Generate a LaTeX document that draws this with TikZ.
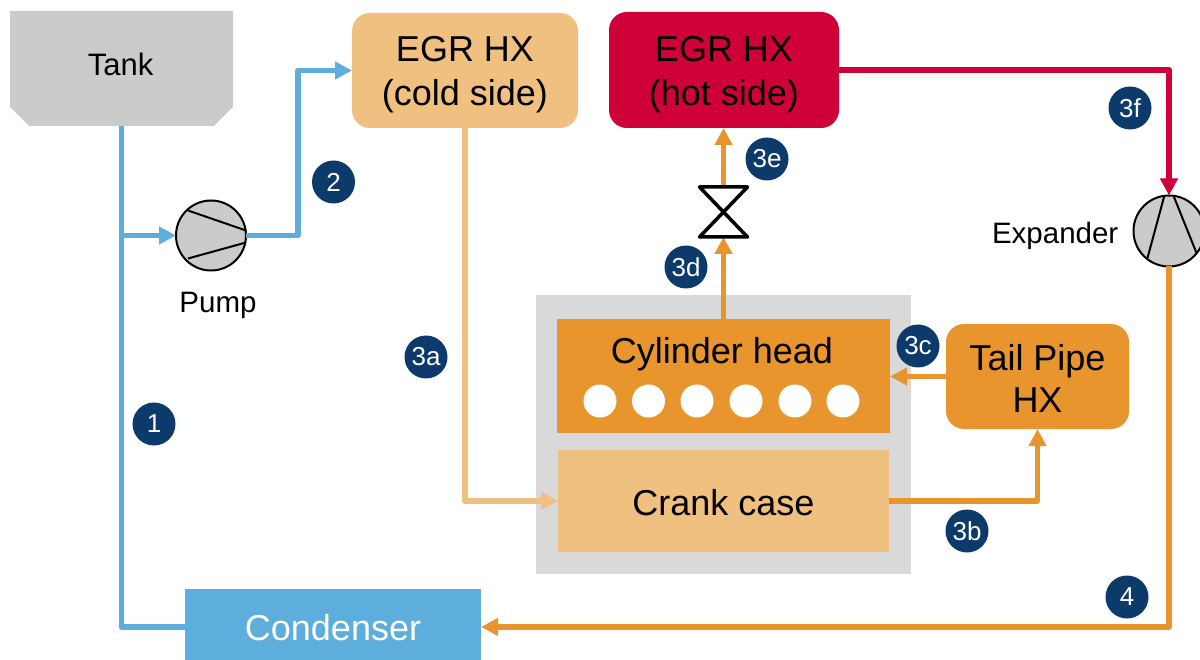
\documentclass[tikz,border=0pt]{standalone}
\usepackage{fontspec}
\setmainfont{Liberation Sans}
\usetikzlibrary{arrows.meta,calc}
\definecolor{flowblue}{HTML}{5DADDD}
\definecolor{floworange}{HTML}{E8952D}
\definecolor{flowpale}{HTML}{F0C080}
\definecolor{flowred}{HTML}{CF0038}
\definecolor{tankgrey}{HTML}{CBCBCB}
\definecolor{enginegrey}{HTML}{D9D9D9}
\definecolor{navy}{HTML}{0B3A6B}
\newcommand{\bigfont}{\fontsize{36}{44}\selectfont}
\newcommand{\midfont}{\fontsize{29.5}{36}\selectfont}
\tikzset{
  box/.style={inner sep=0pt,outer sep=0pt,align=center,font=\bigfont,text=black},
  roundbox/.style={box,rounded corners=18pt},
  flow/.style={line width=5.5pt,line join=round,-{Triangle[width=17pt,length=17pt]}},
  flowplain/.style={line width=5.5pt,line join=round},
  machine/.style={circle,draw=black,line width=2pt,fill=tankgrey,minimum size=70pt,inner sep=0pt,outer sep=0pt},
  blade/.style={black,line width=2pt},
  badge/.style={circle,fill=navy,text=white,minimum size=43pt,inner sep=0pt,font=\fontsize{26}{26}\selectfont},
  hole/.style={circle,fill=white,minimum size=33pt,inner sep=0pt},
  caption/.style={inner sep=0pt,font=\midfont,text=black}
}
\begin{document}
\begin{tikzpicture}[x=1pt,y=-1pt]
\useasboundingbox (0,0) rectangle (1200,660);
% engine block
\node[fill=enginegrey,minimum width=375pt,minimum height=279pt,inner sep=0pt] (engine) at (723.5,434.5) {};
% tank
\node[box,minimum width=223pt,minimum height=115pt] (tank) at (121.5,68.5) {};
\fill[tankgrey] (tank.north west) -- (tank.north east) -- ($(tank.south east)+(0,-19)$) -- ($(tank.south east)+(-19,0)$) -- ($(tank.south west)+(19,0)$) -- ($(tank.south west)+(0,-19)$) -- cycle;
\node[caption,font=\fontsize{31}{36}\selectfont] (tanklabel) at (120.5,64) {Tank};
% boxes
\node[roundbox,fill=flowpale,minimum width=226pt,minimum height=115pt] (cold) at (465,70.5) {};
\node[box] (coldlabel) at (465,75) {EGR HX\\(cold side)};
\node[roundbox,fill=flowred,minimum width=230pt,minimum height=116pt] (hot) at (724,70) {};
\node[box] (hotlabel) at (724,75) {EGR HX\\(hot side)};
\node[box,fill=floworange,minimum width=333pt,minimum height=114pt] (head) at (723.5,376) {};
\node[box] (headlabel) at (722,354) {Cylinder head};
\foreach \hx/\hn in {600/a,648.5/b,697/c,746/d,795/e,843/f}
  \node[hole] (hole\hn) at (\hx,401) {};
\node[box,fill=flowpale,minimum width=331pt,minimum height=102pt] (crank) at (723.5,501) {};
\node[box] (cranklabel) at (723.5,503) {Crank case};
\node[roundbox,fill=floworange,minimum width=183pt,minimum height=105pt] (tail) at (1037.5,376.5) {};
\node[box,font=\fontsize{36}{42}\selectfont] (taillabel) at (1037.5,378) {Tail Pipe\\HX};
\node[box,fill=flowblue,minimum width=296pt,minimum height=71pt] (condenser) at (333,624.5) {};
\node[box,text=white] (condenserlabel) at (333,627.5) {Condenser};
% machines
\node[machine] (pump) at (211,235.5) {};
\draw[blade] ([shift={(-23,-25)}]pump.center) -- ([shift={(35,-5)}]pump.center);
\draw[blade] ([shift={(-23,23)}]pump.center) -- ([shift={(35,7)}]pump.center);
\node[caption] (pumplabel) at (218,305) {Pump};
\node[machine,minimum size=71pt] (expander) at (1169,231) {};
\draw[blade] ([shift={(-5,-34)}]expander.center) -- ([shift={(-21.5,27)}]expander.center);
\draw[blade] ([shift={(5,-34)}]expander.center) -- ([shift={(27.5,22)}]expander.center);
\node[caption,anchor=east] (expanderlabel) at (1118.5,236) {Expander};
% valve
\node[minimum width=48pt,minimum height=50pt,inner sep=0pt,outer sep=0pt] (valve) at (723.5,212) {};
% connectors
\coordinate (junction) at (tank.south |- pump.west);
\coordinate (condin) at ([yshift=-2.5pt]condenser.west);
\coordinate (condout) at ([yshift=-2.5pt]condenser.east);
\draw[flowblue,flowplain] (tank.south) -- (tank.south |- condin) -- (condin);
\draw[flowblue,flow] (junction) -- (pump.west);
\draw[flowblue,flow] (pump.east) -- (298,235.5) |- (cold.west);
\draw[flowpale,flow] (cold.south) -- (cold.south |- crank.west) -- (crank.west);
\draw[floworange,flow] (crank.east) -| (tail.south);
\draw[floworange,flow] (tail.west) -- (tail.west -| head.east);
\draw[floworange,flow] (head.north) -- (valve.south);
\draw[floworange,flow] (valve.north) -- (valve.north |- hot.south);
\draw[flowred,flow] (hot.east) -| (expander.north);
\draw[floworange,flow] (expander.south) |- (condout);
\draw[black,line width=3.5pt,line join=round] (valve.north west) -- (valve.north east) -- (valve.south west) -- (valve.south east) -- cycle;
% badges
\node[badge] (b1) at (154,424) {1};
\node[badge] (b2) at (333.5,182) {2};
\node[badge] (b3a) at (426,357) {3a};
\node[badge] (b3b) at (967,531) {3b};
\node[badge] (b3c) at (918,346) {3c};
\node[badge] (b3d) at (686,267) {3d};
\node[badge] (b3e) at (767,159) {3e};
\node[badge] (b3f) at (1130,108) {3f};
\node[badge] (b4) at (1127,597) {4};
\end{tikzpicture}
\end{document}
